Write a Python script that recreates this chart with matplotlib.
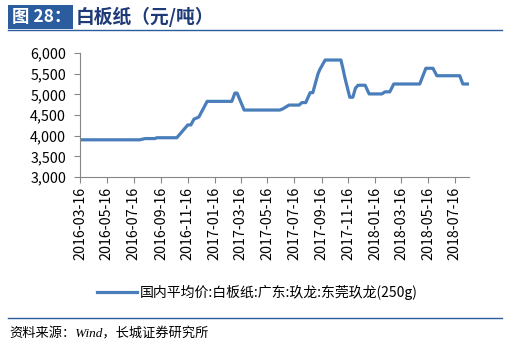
import matplotlib
matplotlib.use("Agg")
import matplotlib.pyplot as plt
import matplotlib.dates as mdates
from matplotlib.ticker import FuncFormatter, FixedLocator
from matplotlib.patches import Rectangle
from matplotlib.lines import Line2D
import pandas as pd

plt.rcParams['font.family'] = ['Noto Sans CJK SC', 'DejaVu Sans']

# price breakpoints (yuan / ton)
dates = ["2016-03-16", "2016-07-30", "2016-08-11", "2016-09-02", "2016-09-07",
         "2016-10-22", "2016-11-16", "2016-11-23", "2016-11-30", "2016-12-11",
         "2016-12-30", "2017-02-24", "2017-03-03", "2017-03-08", "2017-03-24",
         "2017-06-13", "2017-06-20", "2017-07-04", "2017-07-27", "2017-08-02",
         "2017-08-11", "2017-08-21", "2017-08-27", "2017-09-08", "2017-09-12",
         "2017-09-24", "2017-10-30", "2017-11-04", "2017-11-08", "2017-11-19",
         "2017-11-26", "2017-12-02", "2017-12-08", "2017-12-24", "2018-01-02",
         "2018-01-31", "2018-02-07", "2018-02-18", "2018-02-27", "2018-04-27",
         "2018-05-11", "2018-05-27", "2018-06-05", "2018-07-27", "2018-08-03",
         "2018-08-17"]
prices = [3900, 3900, 3930, 3930, 3950,
          3950, 4260, 4260, 4400, 4450,
          4830, 4830, 5030, 5030, 4620,
          4620, 4650, 4740, 4740, 4800,
          4800, 5040, 5040, 5500, 5600,
          5830, 5830, 5600, 5400, 4930,
          4930, 5150, 5220, 5220, 5010,
          5010, 5060, 5060, 5250, 5250,
          5630, 5630, 5450, 5450, 5250,
          5250]

tick_dates = ["2016-03-16", "2016-05-16", "2016-07-16", "2016-09-16", "2016-11-16",
              "2017-01-16", "2017-03-16", "2017-05-16", "2017-07-16", "2017-09-16",
              "2017-11-16", "2018-01-16", "2018-03-16", "2018-05-16", "2018-07-16"]
y_ticks = [3000, 3500, 4000, 4500, 5000, 5500, 6000]

series_name = "国内平均价:白板纸:广东:玖龙:东莞玖龙(250g)"
title_tag = "图 28："
title_text = "白板纸（元/吨）"
source_text = "资料来源：Wind，长城证券研究所"

W, H = 514, 353
fig = plt.figure(figsize=(W / 100, H / 100), dpi=100)

def fx(px):
    return px / W

def fy(py):
    return 1 - py / H

ax = fig.add_axes([fx(80), fy(177), fx(469) - fx(80), fy(53) - fy(177)])
x = pd.to_datetime(dates)
ax.plot(x, prices, color="#4A7EBB", linewidth=2.3, solid_joinstyle="round")

ax.set_xlim(x[0], x[-1])
ax.set_ylim(3000, 6000)
ax.yaxis.set_major_locator(FixedLocator(y_ticks))
ax.yaxis.set_major_formatter(FuncFormatter(lambda v, p: f"{int(v):,}"))
tx = mdates.date2num(pd.to_datetime(tick_dates))
ax.set_xticks(tx)
ax.set_xticklabels(tick_dates, rotation=90)

for s in ["top", "right"]:
    ax.spines[s].set_visible(False)
for s in ["left", "bottom"]:
    ax.spines[s].set_color("#868686")
    ax.spines[s].set_linewidth(0.8)
ax.tick_params(axis="both", color="#868686", length=4, width=0.8,
               labelsize=10.3, labelcolor="#000000")
ax.tick_params(axis="y", pad=6)
ax.tick_params(axis="x", pad=3)

# legend drawn in figure coordinates
fig.add_artist(Line2D([fx(97), fx(137)], [fy(292), fy(292)], color="#4A7EBB", linewidth=2.3))
fig.text(fx(140), fy(292), series_name, fontsize=10, va="center", ha="left")

# title bar
fig.add_artist(Rectangle((fx(8), fy(29)), fx(73) - fx(8), fy(5) - fy(29),
                         facecolor="#2B5C9E", edgecolor="none"))
fig.text(fx(12), fy(17), title_tag, color="white", fontsize=12.5, fontweight="bold",
         va="center", ha="left")
fig.text(fx(76), fy(17), title_text, color="#1F3A78", fontsize=13.5, fontweight="bold",
         va="center", ha="left")
fig.add_artist(Line2D([fx(8), fx(502)], [fy(30), fy(30)], color="#2B5C9E", linewidth=1))

# footer
fig.add_artist(Line2D([fx(8), fx(502)], [fy(318), fy(318)], color="#2B5C9E", linewidth=1))
fig.text(fx(9), fy(334), source_text, fontsize=9.5, style="italic",
         family=["Liberation Serif", "Noto Sans CJK SC"], va="center", ha="left")

fig.savefig("out.png", dpi=100)
